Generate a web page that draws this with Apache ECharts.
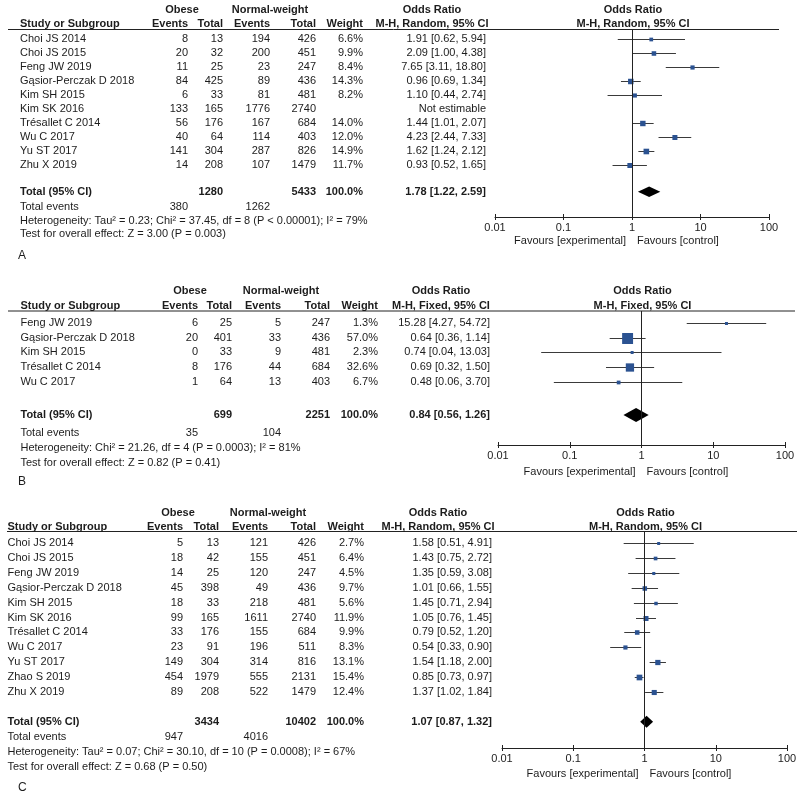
<!DOCTYPE html>
<html><head><meta charset="utf-8">
<script src="https://cdn.jsdelivr.net/npm/echarts@6/dist/echarts.min.js"></script>
<style>html,body{margin:0;padding:0;background:#fff}#c{width:800px;height:798px}</style>
</head><body><div id="c"></div>
<script>
// ---------- DATA ----------
const tickValues = [0.01, 0.1, 1, 10, 100];
const tickLabels = ['0.01', '0.1', '1', '10', '100'];

// Panel A
const studiesA = ['Choi JS 2014','Choi JS 2015','Feng JW 2019','Gąsior-Perczak D 2018','Kim SH 2015','Kim SK 2016','Trésallet C 2014','Wu C 2017','Yu ST 2017','Zhu X 2019'];
const obeseEventsA = [8,20,11,84,6,133,56,40,141,14];
const obeseTotalA  = [13,32,25,425,33,165,176,64,304,208];
const normEventsA  = [194,200,23,89,81,1776,167,114,287,107];
const normTotalA   = [426,451,247,436,481,2740,684,403,826,1479];
const weightA = [6.6,9.9,8.4,14.3,8.2,null,14.0,12.0,14.9,11.7];
const orA = [1.91,2.09,7.65,0.96,1.10,null,1.44,4.23,1.62,0.93];
const loA = [0.62,1.00,3.11,0.69,0.44,null,1.01,2.44,1.24,0.52];
const hiA = [5.94,4.38,18.80,1.34,2.74,null,2.07,7.33,2.12,1.65];
const totalA = {obese:1280, norm:5433, weight:'100.0%', or:1.78, lo:1.22, hi:2.59, evObese:380, evNorm:1262};
const hetA = 'Heterogeneity: Tau² = 0.23; Chi² = 37.45, df = 8 (P < 0.00001); I² = 79%';
const testA = 'Test for overall effect: Z = 3.00 (P = 0.003)';

// Panel B
const studiesB = ['Feng JW 2019','Gąsior-Perczak D 2018','Kim SH 2015','Trésallet C 2014','Wu C 2017'];
const obeseEventsB = [6,20,0,8,1];
const obeseTotalB  = [25,401,33,176,64];
const normEventsB  = [5,33,9,44,13];
const normTotalB   = [247,436,481,684,403];
const weightB = [1.3,57.0,2.3,32.6,6.7];
const orB = [15.28,0.64,0.74,0.69,0.48];
const loB = [4.27,0.36,0.04,0.32,0.06];
const hiB = [54.72,1.14,13.03,1.50,3.70];
const totalB = {obese:699, norm:2251, weight:'100.0%', or:0.84, lo:0.56, hi:1.26, evObese:35, evNorm:104};
const hetB = 'Heterogeneity: Chi² = 21.26, df = 4 (P = 0.0003); I² = 81%';
const testB = 'Test for overall effect: Z = 0.82 (P = 0.41)';

// Panel C
const studiesC = ['Choi JS 2014','Choi JS 2015','Feng JW 2019','Gąsior-Perczak D 2018','Kim SH 2015','Kim SK 2016','Trésallet C 2014','Wu C 2017','Yu ST 2017','Zhao S 2019','Zhu X 2019'];
const obeseEventsC = [5,18,14,45,18,99,33,23,149,454,89];
const obeseTotalC  = [13,42,25,398,33,165,176,91,304,1979,208];
const normEventsC  = [121,155,120,49,218,1611,155,196,314,555,522];
const normTotalC   = [426,451,247,436,481,2740,684,511,816,2131,1479];
const weightC = [2.7,6.4,4.5,9.7,5.6,11.9,9.9,8.3,13.1,15.4,12.4];
const orC = [1.58,1.43,1.35,1.01,1.45,1.05,0.79,0.54,1.54,0.85,1.37];
const loC = [0.51,0.75,0.59,0.66,0.71,0.76,0.52,0.33,1.18,0.73,1.02];
const hiC = [4.91,2.72,3.08,1.55,2.94,1.45,1.20,0.90,2.00,0.97,1.84];
const totalC = {obese:3434, norm:10402, weight:'100.0%', or:1.07, lo:0.87, hi:1.32, evObese:947, evNorm:4016};
const hetC = 'Heterogeneity: Tau² = 0.07; Chi² = 30.10, df = 10 (P = 0.0008); I² = 67%';
const testC = 'Test for overall effect: Z = 0.68 (P = 0.50)';

// ---------- LAYOUT ----------
const FONT = '"Liberation Sans", Arial, Helvetica, sans-serif';
const TXT = '#1c1c1c';
const panels = [
  {label:'A', method:'M-H, Random, 95% CI', studies:studiesA, oe:obeseEventsA, ot:obeseTotalA, ne:normEventsA, nt:normTotalA, w:weightA, or:orA, lo:loA, hi:hiA, tot:totalA, het:hetA, test:testA,
   lay:{left:495, right:31, top:29.5, height:187.5, rowTop:39.3, step:14, h1Y:10, h2Y:24.3, lineX:[8,779], totalY:191.7, eventsY:207.3, hetY:220.7, testY:234, labelY:256, favY:240.7,
        name:20, cOE:188, cOT:223, cNE:270, cNT:316, cW:363, orR:486, obeseC:182, normC:270, orC:432, dH:5.3}},
  {label:'B', method:'M-H, Fixed, 95% CI', studies:studiesB, oe:obeseEventsB, ot:obeseTotalB, ne:normEventsB, nt:normTotalB, w:weightB, or:orB, lo:loB, hi:hiB, tot:totalB, het:hetB, test:testB,
   lay:{left:498, right:15, top:311, height:134, rowTop:322.7, step:14.8, h1Y:290.7, h2Y:306, lineX:[8,795], totalY:415, eventsY:433.3, hetY:448.3, testY:463, labelY:481.5, favY:471.5,
        name:20.5, cOE:198, cOT:232, cNE:281, cNT:330, cW:378, orR:490, obeseC:190, normC:281, orC:441, dH:7}},
  {label:'C', method:'M-H, Random, 95% CI', studies:studiesC, oe:obeseEventsC, ot:obeseTotalC, ne:normEventsC, nt:normTotalC, w:weightC, or:orC, lo:loC, hi:hiC, tot:totalC, het:hetC, test:testC,
   lay:{left:502, right:13, top:531.5, height:216.5, rowTop:543.3, step:14.85, h1Y:512.7, h2Y:527.3, lineX:[7,797], totalY:721.7, eventsY:737.3, hetY:751.7, testY:766.7, labelY:788, favY:774,
        name:7.5, cOE:183, cOT:219, cNE:268, cNT:316, cW:364, orR:492, obeseC:178, normC:268, orC:438, dH:6}}
];

const f2 = v => v.toFixed(2);
const orText = (o, l, h) => o == null ? 'Not estimable' : `${f2(o)} [${f2(l)}, ${f2(h)}]`;

function renderStudy(params, api) {
  const y = api.value(0);
  const c = api.coord([api.value(1), y]);
  const l = api.coord([api.value(2), y]);
  const h = api.coord([api.value(3), y]);
  const s = Math.max(3, 1.45 * Math.sqrt(api.value(4)));
  const yy = Math.round(c[1]) + 0.5;
  return {type:'group', children:[
    {type:'line', shape:{x1:l[0], y1:yy, x2:h[0], y2:yy}, style:{stroke:'#3a3a3a', lineWidth:1}},
    {type:'rect', shape:{x:c[0]-s/2, y:yy-s/2, width:s, height:s}, style:{fill:'#2b5291'}}
  ]};
}
function makeDiamond(dH) {
  return function(params, api) {
    const y = api.value(0);
    const c = api.coord([api.value(1), y]);
    const l = api.coord([api.value(2), y]);
    const h = api.coord([api.value(3), y]);
    return {type:'polygon', shape:{points:[[l[0],c[1]],[c[0],c[1]-dH],[h[0],c[1]],[c[0],c[1]+dH]]}, style:{fill:'#000'}};
  };
}

const grids = [], xAxes = [], yAxes = [], series = [];
panels.forEach((p, i) => {
  const L = p.lay;
  grids.push({left:L.left, right:L.right, top:L.top, height:L.height});
  const base = {type:'log', logBase:10, gridIndex:i, min:tickValues[0], max:tickValues[tickValues.length-1], splitNumber:4, position:'bottom', splitLine:{show:false}};
  xAxes.push(Object.assign({}, base, {
    axisLine:{show:true, onZero:false, lineStyle:{color:'#222', width:1}},
    axisTick:{show:true, length:3, lineStyle:{color:'#222'}},
    axisLabel:{fontSize:11, color:TXT, fontFamily:FONT, margin:5,
      formatter: v => tickLabels[tickValues.findIndex(t => Math.abs(Math.log10(t) - Math.log10(v)) < 1e-6)] || ''}
  }));
  xAxes.push(Object.assign({}, base, {
    axisLine:{show:false, onZero:false}, axisLabel:{show:false},
    axisTick:{show:true, inside:true, length:3, lineStyle:{color:'#222'}}
  }));
  yAxes.push({type:'value', gridIndex:i, inverse:true, show:false,
    min:(L.top - L.rowTop)/L.step, max:(L.top + L.height - L.rowTop)/L.step});
  const data = [];
  p.studies.forEach((s, k) => { if (p.or[k] != null) data.push([k, p.or[k], p.lo[k], p.hi[k], p.w[k]]); });
  series.push({type:'custom', xAxisIndex:2*i, yAxisIndex:i, renderItem:renderStudy, data, encode:{x:[1,2,3], y:0}, silent:true, animation:false,
    markLine:{silent:true, symbol:'none', label:{show:false}, animation:false, lineStyle:{color:'#222', width:1, type:'solid'}, data:[{xAxis:1}]}});
  const tIdx = (L.totalY - L.rowTop)/L.step;
  series.push({type:'custom', xAxisIndex:2*i, yAxisIndex:i, renderItem:makeDiamond(L.dH), data:[[tIdx, p.tot.or, p.tot.lo, p.tot.hi]], encode:{x:[1,2,3], y:0}, silent:true, animation:false});
});

const chart = echarts.init(document.getElementById('c'), null, {renderer:'canvas'});
chart.setOption({backgroundColor:'#fff', animation:false, grid:grids, xAxis:xAxes, yAxis:yAxes, series});

function T(x, y, text, o) {
  o = o || {};
  return {type:'text', x, y, silent:true, z:10, style:{text:String(text), fill:TXT, fontSize:o.size||11, fontFamily:FONT, fontWeight:o.bold?'bold':'normal',
    align:o.align||'left', verticalAlign:'middle', textAlign:o.align||'left', textVerticalAlign:'middle'}};
}
const g = [];
panels.forEach((p, i) => {
  const L = p.lay;
  const x1 = chart.convertToPixel({xAxisIndex:2*i}, 1);
  // header
  g.push(T(L.obeseC, L.h1Y, 'Obese', {bold:true, align:'center'}));
  g.push(T(L.normC, L.h1Y, 'Normal-weight', {bold:true, align:'center'}));
  g.push(T(L.orC, L.h1Y, 'Odds Ratio', {bold:true, align:'center'}));
  g.push(T(x1+1, L.h1Y, 'Odds Ratio', {bold:true, align:'center'}));
  g.push(T(L.name, L.h2Y, 'Study or Subgroup', {bold:true}));
  g.push(T(L.cOE, L.h2Y, 'Events', {bold:true, align:'right'}));
  g.push(T(L.cOT, L.h2Y, 'Total', {bold:true, align:'right'}));
  g.push(T(L.cNE, L.h2Y, 'Events', {bold:true, align:'right'}));
  g.push(T(L.cNT, L.h2Y, 'Total', {bold:true, align:'right'}));
  g.push(T(L.cW, L.h2Y, 'Weight', {bold:true, align:'right'}));
  g.push(T(L.orC, L.h2Y, p.method, {bold:true, align:'center'}));
  g.push(T(x1+1, L.h2Y, p.method, {bold:true, align:'center'}));
  g.push({type:'line', silent:true, z:5, shape:{x1:L.lineX[0], y1:L.top, x2:L.lineX[1], y2:L.top}, style:{stroke:'#222', lineWidth:1}});
  // rows
  p.studies.forEach((s, k) => {
    const y = L.rowTop + k*L.step;
    g.push(T(L.name, y, s));
    g.push(T(L.cOE, y, p.oe[k], {align:'right'}));
    g.push(T(L.cOT, y, p.ot[k], {align:'right'}));
    g.push(T(L.cNE, y, p.ne[k], {align:'right'}));
    g.push(T(L.cNT, y, p.nt[k], {align:'right'}));
    if (p.w[k] != null) g.push(T(L.cW, y, p.w[k].toFixed(1)+'%', {align:'right'}));
    g.push(T(L.orR, y, orText(p.or[k], p.lo[k], p.hi[k]), {align:'right'}));
  });
  // totals
  g.push(T(L.name, L.totalY, 'Total (95% CI)', {bold:true}));
  g.push(T(L.cOT, L.totalY, p.tot.obese, {bold:true, align:'right'}));
  g.push(T(L.cNT, L.totalY, p.tot.norm, {bold:true, align:'right'}));
  g.push(T(L.cW, L.totalY, p.tot.weight, {bold:true, align:'right'}));
  g.push(T(L.orR, L.totalY, orText(p.tot.or, p.tot.lo, p.tot.hi), {bold:true, align:'right'}));
  g.push(T(L.name, L.eventsY, 'Total events'));
  g.push(T(L.cOE, L.eventsY, p.tot.evObese, {align:'right'}));
  g.push(T(L.cNE, L.eventsY, p.tot.evNorm, {align:'right'}));
  g.push(T(L.name, L.hetY, p.het));
  g.push(T(L.name, L.testY, p.test));
  g.push(T(18, L.labelY, p.label, {size:12}));
  // favours
  g.push(T(x1-6, L.favY, 'Favours [experimental]', {align:'right'}));
  g.push(T(x1+5, L.favY, 'Favours [control]', {align:'left'}));
});
chart.setOption({graphic:{elements:g}});
</script></body></html>
